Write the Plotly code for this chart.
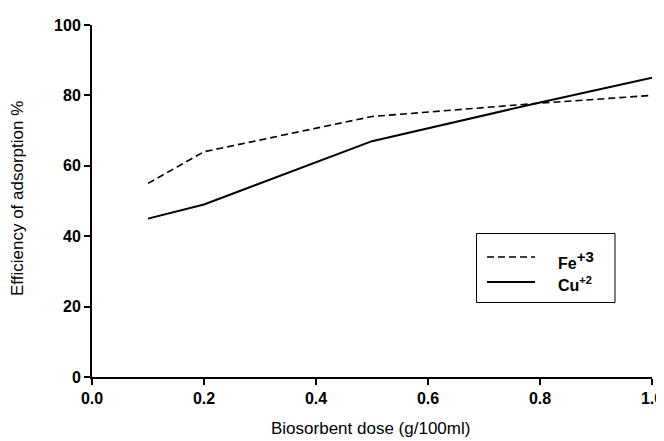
import plotly.graph_objects as go

dose = [0.1, 0.2, 0.5, 0.8, 1.0]
fe_eff = [55, 64, 74, 77.8, 80]
cu_eff = [45, 49, 67, 78, 85]
ion_names = ["Fe", "Cu"]
ion_charges = ["+3", "+2"]
x_ticks = [0.0, 0.2, 0.4, 0.6, 0.8, 1.0]
x_tick_labels = ["0.0", "0.2", "0.4", "0.6", "0.8", "1.0"]
y_ticks = [0, 20, 40, 60, 80, 100]

# page body margin offset (px) compensation
OFF = 8
W, H = 664, 441
# plot area in screen pixels: x 92..652, y 25..377
L, T = 92 - OFF, 25 - OFF
R = W - (652 - OFF)
B = H - (377 - OFF)
pw, ph = W - L - R, H - T - B

def px(x):
    return (x - OFF - L) / pw

def py(y):
    return (H - B - (y - OFF)) / ph

FONT = "Liberation Sans, Arial, sans-serif"
fe_dash = "7px,4px"

fig = go.Figure()
fig.add_trace(go.Scatter(x=dose, y=fe_eff, mode="lines", name=ion_names[0] + ion_charges[0],
                         line=dict(color="black", width=1.6, dash=fe_dash)))
fig.add_trace(go.Scatter(x=dose, y=cu_eff, mode="lines", name=ion_names[1] + ion_charges[1],
                         line=dict(color="black", width=2)))

# manual legend
shapes = [
    dict(type="rect", xref="paper", yref="paper", x0=px(476.5), x1=px(615), y0=py(233.5), y1=py(302.5),
         line=dict(color="black", width=1), fillcolor="white", layer="above"),
    dict(type="line", xref="paper", yref="paper", x0=px(487), x1=px(535), y0=py(257), y1=py(257),
         line=dict(color="black", width=1.6, dash=fe_dash), layer="above"),
    dict(type="line", xref="paper", yref="paper", x0=px(487), x1=px(535), y0=py(282), y1=py(282),
         line=dict(color="black", width=2), layer="above"),
]
fe_label = "<b>%s<sup><span style='font-size:15px'>%s</span></sup></b>" % (ion_names[0], ion_charges[0])
cu_label = "<b>%s<sup><span style='font-size:11px'>%s</span></sup></b>" % (ion_names[1], ion_charges[1])
annotations = [
    dict(text=fe_label, xref="paper", yref="paper", x=px(556), y=py(260),
         xanchor="left", yanchor="middle", showarrow=False, font=dict(size=16, family=FONT)),
    dict(text=cu_label, xref="paper", yref="paper", x=px(556), y=py(284),
         xanchor="left", yanchor="middle", showarrow=False, font=dict(size=16, family=FONT)),
    dict(text="Efficiency of adsorption %", xref="paper", yref="paper", x=px(18), y=py(199),
         xanchor="center", yanchor="middle", textangle=-90, showarrow=False,
         font=dict(size=17, family=FONT)),
    dict(text="Biosorbent dose (g/100ml)", xref="paper", yref="paper", x=px(370), y=py(428),
         xanchor="center", yanchor="middle", showarrow=False, font=dict(size=17, family=FONT)),
]

fig.update_layout(
    width=W, height=H,
    margin=dict(l=L, r=R, t=T, b=B),
    paper_bgcolor="white", plot_bgcolor="white",
    font=dict(family=FONT, color="black"),
    showlegend=False,
    shapes=shapes,
    annotations=annotations,
    xaxis=dict(range=[0, 1.0], tickvals=x_ticks, ticktext=["<b>%s</b>" % t for t in x_tick_labels],
               showline=True, linecolor="black", linewidth=2, ticks="outside",
               ticklen=6, tickwidth=1.5, tickcolor="black", showgrid=False, zeroline=False,
               tickfont=dict(size=16), automargin=False),
    yaxis=dict(range=[0, 100], tickvals=y_ticks, ticktext=["<b>%d</b>" % t for t in y_ticks],
               showline=True, linecolor="black", linewidth=2, ticks="outside",
               ticklen=6, tickwidth=1.5, tickcolor="black", showgrid=False, zeroline=False,
               tickfont=dict(size=16), automargin=False),
)
fig.write_html("out.html")
